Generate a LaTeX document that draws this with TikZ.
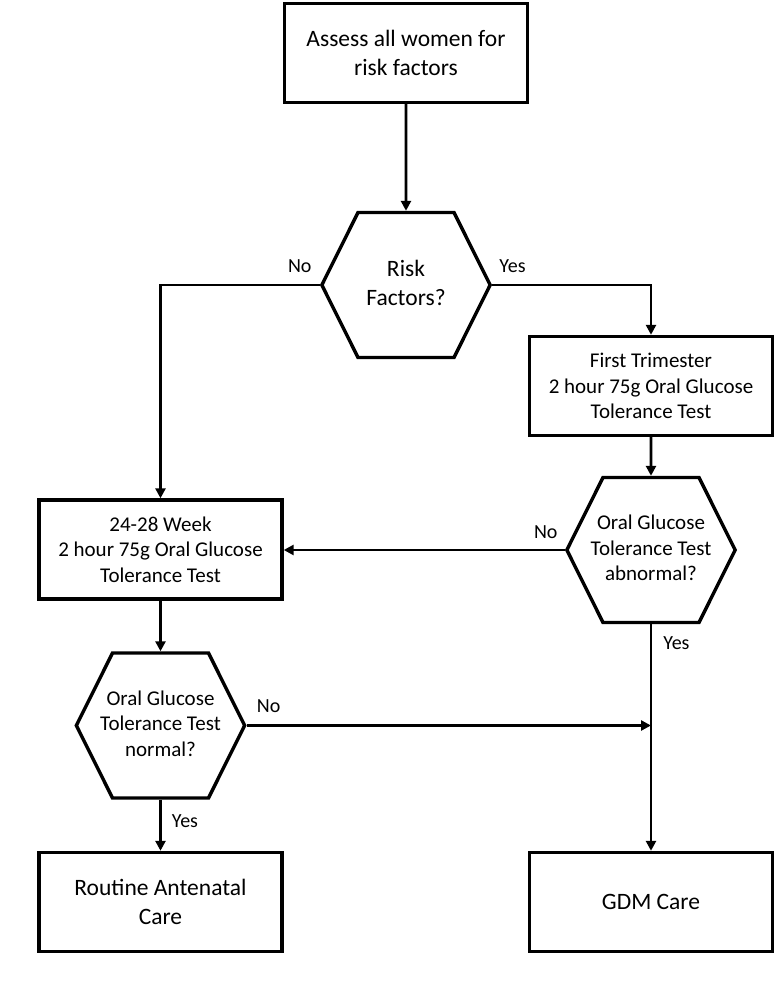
\documentclass[tikz,border=0pt]{standalone}
\usepackage{fontspec}
\setmainfont{Carlito}
\usetikzlibrary{arrows.meta,shapes.symbols,positioning}

\newcommand{\hexlines}[1]{\makebox[96pt]{\begin{tabular}{@{}c@{}}#1\end{tabular}}}

\begin{document}
\begin{tikzpicture}[x=1pt,y=1pt,
    box/.style={draw, line width=3.4pt, minimum width=243pt, minimum height=99pt, align=center, inner sep=2pt},
    hexa/.style={draw, line width=3.4pt, signal, signal to=west and east, signal pointer angle=127, minimum height=145pt, inner sep=0pt},
    bigtxt/.style={font=\fontsize{23.5}{29}\selectfont},
    smalltxt/.style={font=\fontsize{21}{25.5}\selectfont},
    arr/.style={line width=2.9pt, -{Triangle[length=10pt,width=10pt]}},
    lbl/.style={font=\fontsize{20}{24}\selectfont, inner sep=0pt}]
    \useasboundingbox (0,0) rectangle (775,983);

    % Screening steps
    \node[box, bigtxt] (assess) at (406,930) {Assess all women for\\risk factors};
    \node[hexa, bigtxt] (risk) at (406,698) {\hexlines{Risk\\Factors?}};
    \node[box, smalltxt] (first) at (651,597) {First Trimester\\2 hour 75g Oral Glucose\\Tolerance Test};
    \node[hexa, smalltxt] (abn) at (651,433) {\hexlines{Oral Glucose\\Tolerance Test\\abnormal?}};
    \node[box, smalltxt] (week) at (160.5,433.5) {24-28 Week\\2 hour 75g Oral Glucose\\Tolerance Test};
    \node[hexa, smalltxt] (norm) at (160.5,257.5) {\hexlines{Oral Glucose\\Tolerance Test\\normal?}};

    % Outcomes
    \node[box, bigtxt] (routine) at (160.5,81) {Routine Antenatal\\Care};
    \node[box, bigtxt] (gdm) at (651,81) {GDM Care};

    % Connectors
    \draw[arr] (assess) -- (risk);
    \draw[arr] (risk.west) node[lbl, above left=11pt and 7pt] (rno) {No} -| (week.north);
    \draw[arr] (risk.east) node[lbl, above right=11pt and 6pt] (ryes) {Yes} -| (first.north);
    \draw[arr] (first) -- (abn);
    \draw[arr] (abn.west) node[lbl, above left=10pt and 6pt] (ano) {No} -- (abn.west -| week.east);
    \draw[arr] (abn.south) node[lbl, below right=11pt and 11pt] (ayes) {Yes} -- (gdm.north);
    \draw[arr] (week) -- (norm);
    \draw[arr] (norm.east) node[lbl, above right=11pt and 9pt] (nno) {No} -- (norm.east -| gdm.north);
    \draw[arr] (norm.south) node[lbl, below right=14pt and 10pt] (nyes) {Yes} -- (routine.north);
\end{tikzpicture}
\end{document}
